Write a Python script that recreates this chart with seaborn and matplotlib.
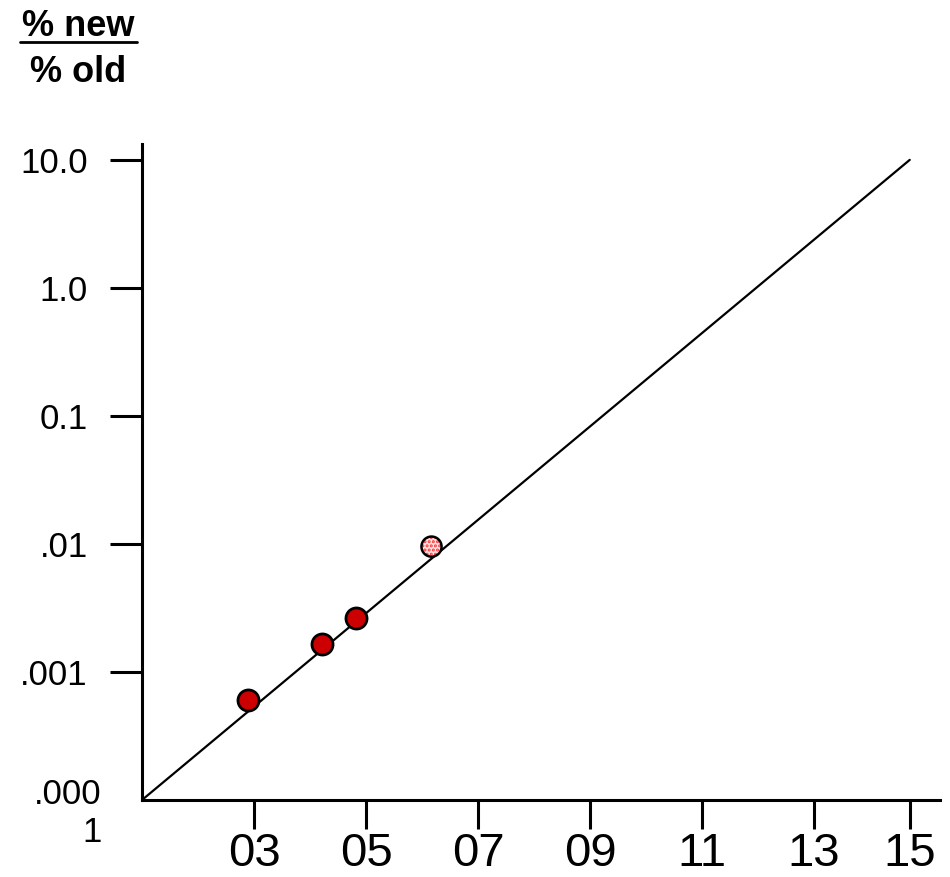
import matplotlib
matplotlib.use("Agg")
import matplotlib.pyplot as plt
import seaborn as sns
import pandas as pd
from matplotlib.lines import Line2D
from matplotlib.transforms import ScaledTranslation

# ---- data ----
obs_year = [2002.89, 2004.21, 2004.83]
obs_ratio = [0.000604, 0.00166, 0.00266]
proj_year = [2006.17]
proj_ratio = [0.00953]
trend_year = [2001.0, 2014.71]
trend_ratio = [0.0001, 10.0]
xtick_pos = [2003, 2005, 2007, 2009, 2011, 2013, 2014.71]
xtick_labels = ["03", "05", "07", "09", "11", "13", "15"]
ytick_pos = [10.0, 1.0, 0.1, 0.01, 0.001, 0.0001]
ytick_labels = ["10.0", "1.0", "0.1", ".01", ".001", ".000\n1"]

sns.set_theme(style="white")
plt.rcParams['font.family'] = ['Liberation Sans', 'DejaVu Sans']
plt.rcParams['text.color'] = 'black'
plt.rcParams['hatch.linewidth'] = 1.5

fig = plt.figure(figsize=(9.5, 8.77), dpi=100)
W, H = 950, 877
ax = fig.add_axes([142 / W, (H - 800) / H, (940 - 142) / W, (800 - 144) / H])

df_trend = pd.DataFrame({"year": trend_year, "ratio": trend_ratio})
df_obs = pd.DataFrame({"year": obs_year, "ratio": obs_ratio})
df_proj = pd.DataFrame({"year": proj_year, "ratio": proj_ratio})

sns.lineplot(data=df_trend, x="year", y="ratio", ax=ax, color="black", linewidth=1.6, zorder=2)
sns.scatterplot(data=df_obs, x="year", y="ratio", ax=ax, s=230, color="#cc0000",
                edgecolor="black", linewidth=2.0, zorder=3)
# projected point: pink fill with red dot pattern, then black outline
sns.scatterplot(data=df_proj, x="year", y="ratio", ax=ax, s=200, facecolor="#ffe6e6",
                edgecolor="#ff3030", linewidth=0, hatch="....", zorder=3)
sns.scatterplot(data=df_proj, x="year", y="ratio", ax=ax, s=210, facecolor="none",
                edgecolor="black", linewidth=1.8, zorder=4)

ax.set_yscale("log")
ax.set_xlim(2001.0, 2015.25)
ax.set_ylim(0.0001, 13.3)
ax.set_xticks(xtick_pos)
ax.set_xticklabels(xtick_labels, fontsize=34)
ax.set_yticks(ytick_pos)
ax.set_yticklabels(ytick_labels, fontsize=25, multialignment="right")
ax.minorticks_off()
ax.set_xlabel("")
ax.set_ylabel("")

for side in ["top", "right"]:
    ax.spines[side].set_visible(False)
for side in ["left", "bottom"]:
    ax.spines[side].set_linewidth(2.2)
    ax.spines[side].set_color("black")

ax.tick_params(axis="x", which="major", bottom=True, direction="out", length=21, width=2.2,
               pad=2, colors="black", labelcolor="black")
ax.tick_params(axis="y", which="major", left=True, direction="out", length=23, width=2.2,
               pad=16, colors="black", labelcolor="black")

# bottom y tick has no tick mark in the reference
ax.yaxis.get_major_ticks()[-1].tick1line.set_visible(False)

for lab in ax.get_yticklabels():
    if lab.get_text().startswith(".000"):
        lab.set_transform(lab.get_transform() + ScaledTranslation(14 / 100, -7 / 100, fig.dpi_scale_trans))

# header
fig.text(78 / W, 1 - 36 / H, "% new", ha="center", va="baseline", fontsize=26,
         fontweight="bold", color="black")
fig.text(78 / W, 1 - 82 / H, "% old", ha="center", va="baseline", fontsize=26,
         fontweight="bold", color="black")
fig.add_artist(Line2D([20 / W, 137 / W], [1 - 41.5 / H, 1 - 41.5 / H], transform=fig.transFigure,
                      color="black", linewidth=2.0))

fig.savefig("out.png", dpi=100, facecolor="white")
